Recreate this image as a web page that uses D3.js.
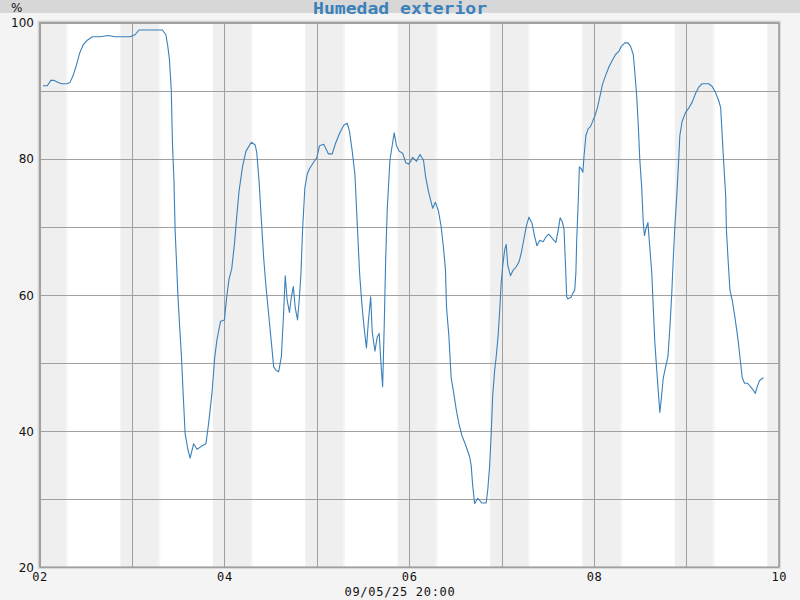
<!DOCTYPE html>
<html><head><meta charset="utf-8">
<script src="https://cdn.jsdelivr.net/npm/d3@7"></script>
<style>body{margin:0;background:#f4f4f4;}svg{display:block;}</style>
</head><body>
<svg id="chart" width="800" height="600"></svg>
<script>
const title = "Humedad exterior";
const unitLabel = "%";
const footerLabel = "09/05/25 20:00";
const startDate = new Date(2025, 4, 2, 0, 0);
const endDate = new Date(2025, 4, 10, 0, 0);
const xTickDays = [2, 4, 6, 8, 10];
const yTickLabels = [20, 40, 60, 80, 100];
const yGridValues = [20, 30, 40, 50, 60, 70, 80, 90, 100];
const nightStartHour = 21.0;
const nightEndHour = 7.1;
// hours since 02/05/25 00:00
const hours = [0.9,2.0,2.9,3.7,4.8,5.8,7.0,7.9,8.7,9.6,10.4,11.3,12.4,13.7,15.7,17.8,19.6,23.5,24.8,25.8,29.1,31.9,32.8,33.3,33.7,34.2,34.5,34.9,35.2,35.6,35.9,36.4,36.8,37.3,37.8,38.5,39.1,40.0,40.9,42.2,43.2,43.9,44.8,45.5,46.1,47.0,48.0,
48.6,49.2,49.9,50.6,51.2,51.8,52.7,53.6,55.0,56.0,56.4,57.0,57.6,58.2,58.8,59.5,60.2,60.8,61.4,62.1,62.8,63.4,63.8,64.3,64.9,65.4,65.9,66.4,67.0,67.5,67.9,68.3,68.9,69.5,70.1,71.2,72.0,72.7,73.8,75.0,76.0,76.9,77.9,79.0,79.9,80.5,81.2,81.9,82.5,83.1,83.7,84.3,84.9,85.4,86.0,86.4,87.1,87.7,88.2,88.7,89.1,89.5,89.9,90.3,91.0,92.1,92.7,93.4,94.3,95.1,95.8,
96.4,96.9,97.9,98.8,99.7,100.3,101.0,101.7,102.1,102.8,103.6,104.3,104.9,105.4,105.7,106.3,106.9,107.5,108.2,108.9,109.7,110.6,111.7,112.1,112.5,113.0,113.8,114.9,116.0,116.4,116.9,117.3,117.7,118.2,118.6,119.1,119.5,119.9,120.3,120.8,121.2,121.6,122.3,123.0,123.8,124.5,125.1,125.7,126.4,127.1,127.9,128.6,129.2,129.9,130.8,131.5,132.2,133.0,133.6,134.1,134.7,135.2,135.7,136.2,136.6,136.9,137.2,138.0,138.5,139.0,139.3,139.5,139.9,140.2,140.7,141.1,141.4,141.9,142.5,143.1,143.8,
144.2,144.9,145.6,146.2,147.0,147.9,148.8,149.6,150.5,151.1,152.0,152.8,153.5,154.2,154.6,155.1,155.5,155.9,156.4,156.8,157.1,157.5,158.0,158.5,159.0,159.4,159.8,160.3,160.7,161.1,161.5,162.0,162.6,163.2,163.7,164.2,164.6,165.0,165.5,165.9,166.3,166.9,167.8,168.7,169.5,170.4,171.2,172.1,173.8,174.7,175.5,176.4,176.9,177.3,177.7,178.2,178.4,178.8,179.3,179.9,180.5,181.0,181.5,181.9,182.5,183.1,183.9,184.8,185.5,185.9,186.4,187.0,188.0];
const humidity = [90.7,90.7,91.5,91.5,91.2,91.0,91.0,91.2,92.2,93.8,95.5,96.7,97.4,97.9,97.9,98.1,97.9,97.9,98.2,98.9,98.9,98.9,98.2,96.5,94.7,90.1,82.4,76.7,69.5,64.3,60.2,55.1,51.4,45.3,39.6,37.3,36.0,38.1,37.3,37.8,38.1,41.1,45.7,50.9,53.5,56.1,56.3,
59.7,62.3,63.8,67.4,71.5,75.2,78.8,81.1,82.4,82.0,80.9,76.7,71.0,65.4,61.2,57.1,53.0,49.4,48.9,48.7,50.9,57.6,62.8,59.2,57.4,59.7,61.2,58.1,56.3,59.7,63.3,69.5,75.7,77.7,78.5,79.5,80.1,81.9,82.1,80.7,80.7,82.3,83.7,84.9,85.2,84.0,81.1,77.7,70.5,63.3,58.7,55.1,52.2,56.1,59.7,54.5,51.7,53.8,54.3,49.6,46.5,55.1,65.4,72.6,79.8,83.8,81.9,81.1,80.8,79.4,79.2,
79.6,80.2,79.6,80.6,79.8,77.2,75.2,73.6,72.7,73.6,72.3,70.0,66.9,63.8,58.1,54.0,47.8,45.8,43.2,41.1,39.3,38.0,36.2,34.9,31.9,29.3,30.1,29.4,29.4,31.3,34.9,39.6,45.3,48.9,50.9,54.0,57.6,61.8,64.3,66.6,67.4,64.3,62.8,63.6,64.1,64.8,66.1,67.9,70.0,71.4,70.5,68.5,67.2,68.0,67.8,68.5,68.9,68.4,68.0,67.7,69.5,71.3,70.8,69.7,64.3,59.7,59.4,59.6,60.2,60.7,63.3,67.9,73.6,78.8,78.5,78.0,80.3,83.4,84.4,84.7,85.7,
86.2,87.5,89.3,90.9,92.2,93.5,94.5,95.3,95.8,96.5,97.0,97.0,96.5,95.3,92.7,89.1,84.9,79.8,75.7,70.5,68.7,69.7,70.6,66.9,63.3,58.1,53.0,48.9,45.8,42.7,44.8,47.8,49.4,50.9,55.1,60.2,65.4,70.0,74.6,78.8,83.4,85.5,86.8,87.5,88.3,89.6,90.5,91.0,91.0,90.6,89.8,88.5,87.5,83.4,79.3,74.6,69.5,65.4,60.7,59.2,57.1,55.1,53.0,50.9,47.8,47.0,47.0,46.4,45.9,45.5,46.5,47.4,47.8];

const data = hours.map((h, i) => ({t: new Date(startDate.getTime() + h * 3600e3), v: humidity[i]}));

const svg = d3.select("#chart");
const pL = 39.6, pR = 778.8, pT = 22.5, pB = 567;
const x = d3.scaleTime().domain([startDate, endDate]).range([pL, pR]);
const y = d3.scaleLinear().domain([20, 100]).range([pB, pT]);

svg.append("rect").attr("width", 800).attr("height", 600).attr("fill", "#f4f4f4");
svg.append("rect").attr("width", 800).attr("height", 13).attr("fill", "#d7d7d7");

// outer frame shadow
svg.append("rect").attr("x", pL - 2).attr("y", pT - 2).attr("width", pR - pL + 4).attr("height", pB - pT + 4).attr("fill", "#d9d9d9");
svg.append("rect").attr("x", pL).attr("y", pT).attr("width", pR - pL).attr("height", pB - pT).attr("fill", "#ffffff");

// night bands
const days = d3.timeDay.range(d3.timeDay.offset(startDate, -1), endDate);
const bands = days.map(d => ({
  s: new Date(Math.max(d.getTime() + nightStartHour * 3600e3, startDate.getTime())),
  e: new Date(Math.min(d.getTime() + (24 + nightEndHour) * 3600e3, endDate.getTime()))
})).filter(b => b.e > b.s);
svg.append("g").selectAll("rect").data(bands).join("rect")
  .attr("x", d => x(d.s)).attr("y", pT)
  .attr("width", d => x(d.e) - x(d.s)).attr("height", pB - pT)
  .attr("fill", "#efefef");
svg.append("g").selectAll("rect").data(bands.filter(b => b.e < endDate)).join("rect")
  .attr("x", d => x(d.e) - 1).attr("y", pT)
  .attr("width", 2).attr("height", pB - pT)
  .attr("fill", "#f6f6f6");

// grid
svg.append("g").attr("transform", `translate(${pL},0)`)
  .call(d3.axisLeft(y).tickValues(yGridValues).tickSize(-(pR - pL)).tickFormat(""))
  .call(g => g.select(".domain").remove())
  .call(g => g.selectAll("line").attr("stroke", "#a0a0a0").attr("stroke-width", 1).attr("shape-rendering", "crispEdges"));
svg.append("g").attr("transform", `translate(0,${pB})`)
  .call(d3.axisBottom(x).ticks(d3.timeDay.every(1)).tickSize(-(pB - pT)).tickFormat(""))
  .call(g => g.select(".domain").remove())
  .call(g => g.selectAll("line").attr("stroke", "#a0a0a0").attr("stroke-width", 1).attr("shape-rendering", "crispEdges"));

svg.append("rect").attr("x", pL).attr("y", pT).attr("width", pR - pL).attr("height", pB - pT)
  .attr("fill", "none").attr("stroke", "#a0a0a0").attr("stroke-width", 1.2);

// line
const line = d3.line().x(d => x(d.t)).y(d => y(d.v));
svg.append("path").datum(data).attr("d", line).attr("fill", "none")
  .attr("stroke", "#3a80ba").attr("stroke-width", 1.1).attr("stroke-linejoin", "round");

// y labels
svg.append("g").attr("transform", `translate(34,0)`)
  .call(d3.axisLeft(y).tickValues(yTickLabels).tickSize(0).tickPadding(0))
  .call(g => g.select(".domain").remove())
  .call(g => g.selectAll("text").attr("font-family", "DejaVu Sans").attr("font-size", 12).attr("fill", "#111").attr("dy", "0.36em"));

// x labels
const xTickDates = xTickDays.map(d => new Date(2025, 4, d));
svg.append("g").attr("transform", `translate(0,${pB})`)
  .call(d3.axisBottom(x).tickValues(xTickDates).tickSize(0).tickPadding(5.5).tickFormat(d3.timeFormat("%d")))
  .call(g => g.select(".domain").remove())
  .call(g => g.selectAll("text").attr("font-family", "DejaVu Sans Mono").attr("font-size", 12).attr("letter-spacing", 0.6).attr("fill", "#111"));

svg.append("text").attr("x", 400).attr("y", 596).attr("text-anchor", "middle")
  .attr("font-family", "DejaVu Sans Mono").attr("font-size", 12).attr("letter-spacing", 0.7)
  .attr("fill", "#111").text(footerLabel);

svg.append("text").attr("x", 11).attr("y", 12)
  .attr("font-family", "DejaVu Sans").attr("font-size", 12).attr("fill", "#111").text(unitLabel);

svg.append("text").attr("x", 400).attr("y", 14).attr("text-anchor", "middle")
  .attr("font-family", "DejaVu Sans Mono").attr("font-weight", "bold").attr("font-size", 16)
  .attr("textLength", 174).attr("lengthAdjust", "spacingAndGlyphs")
  .attr("fill", "#3a80ba").text(title);
</script>
</body></html>
